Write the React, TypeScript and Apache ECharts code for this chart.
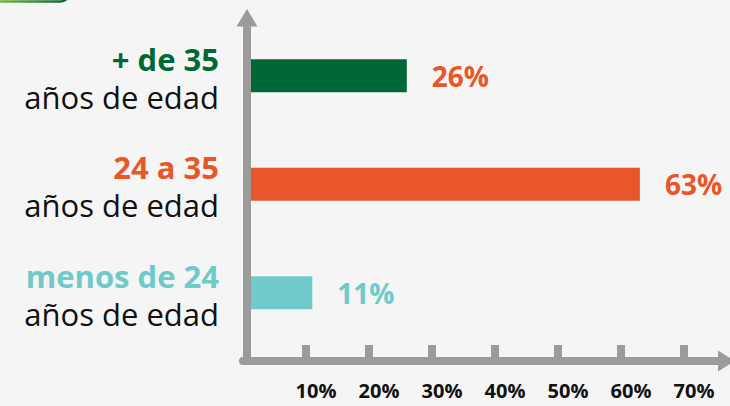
import React, { useEffect, useRef } from "react";
import * as echarts from "echarts";

// Categories listed bottom to top (category y axis)
const categories = ["menos de 24", "24 a 35", "+ de 35"];
const subLabel = "años de edad";
const values = [11, 63, 26];
const tickValues = [10, 20, 30, 40, 50, 60, 70];

const GREEN = "#006837";
const ORANGE = "#e8572a";
const TEAL = "#6fcac9";
const AXIS = "#9b9b9b";
const barColors = [TEAL, ORANGE, GREEN];
const valueLabelColors = [TEAL, ORANGE, ORANGE];
const catStyleKeys = ["t", "o", "g"];

export default function App() {
  const ref = useRef<HTMLDivElement>(null);
  useEffect(() => {
    if (!ref.current) return;
    const chart = echarts.init(ref.current, undefined, { renderer: "svg" });
    const font = "'Open Sans', sans-serif";
    const line = { fontFamily: font, fontSize: 31, lineHeight: 38, align: "right" };
    chart.setOption({
      animation: false,
      backgroundColor: "#f5f5f5",
      textStyle: { fontFamily: font },
      grid: { left: 243, right: 3.5, top: 21.5, bottom: 59, containLabel: false },
      xAxis: {
        type: "value",
        min: 0,
        max: 76.75,
        offset: 14,
        splitLine: { show: false },
        axisLine: {
          show: true,
          lineStyle: { color: AXIS, width: 8 },
          symbol: ["none", "triangle"],
          symbolSize: [21, 17],
        },
        axisTick: {
          show: true,
          inside: true,
          length: 16,
          customValues: tickValues,
          lineStyle: { color: AXIS, width: 8 },
        },
        axisLabel: {
          show: true,
          customValues: tickValues,
          margin: 17,
          color: "#111",
          fontFamily: font,
          fontWeight: "bold",
          fontSize: 20,
          lineHeight: 24,
          padding: [0, 0, 0, 20],
          formatter: (v: number) => `${v}%`,
        },
      },
      yAxis: {
        type: "category",
        data: categories,
        axisLine: { show: false },
        axisTick: { show: false },
        splitLine: { show: false },
        axisLabel: {
          margin: 24,
          align: "right",
          padding: [4, 0, 0, 0],
          formatter: (v: string, i: number) => `{${catStyleKeys[i]}|${v}}\n{s|${subLabel}}`,
          rich: {
            g: { ...line, color: GREEN, fontWeight: "bold" },
            o: { ...line, color: ORANGE, fontWeight: "bold" },
            t: { ...line, color: TEAL, fontWeight: "bold" },
            s: { ...line, color: "#111" },
          },
        },
      },
      series: [
        {
          type: "bar",
          barWidth: 33,
          data: values.map((v, i) => ({
            value: v,
            itemStyle: { color: barColors[i] },
            label: { color: valueLabelColors[i] },
          })),
          label: {
            show: true,
            position: "right",
            distance: 25,
            fontFamily: font,
            fontWeight: "bold",
            fontSize: 28,
            formatter: (p: any) => `${p.value}%`,
          },
        },
      ],
      graphic: [
        {
          type: "rect",
          z: 10,
          shape: { x: -30, y: -40, width: 100, height: 41.5, r: 10 },
          style: {
            fill: "none",
            lineWidth: 2.5,
            stroke: {
              type: "linear",
              x: 0,
              y: 0,
              x2: 1,
              y2: 0,
              colorStops: [
                { offset: 0, color: "#b5d334" },
                { offset: 0.5, color: "#4ea03f" },
                { offset: 1, color: "#0b5e3a" },
              ],
            },
          },
        },
        {
          type: "line",
          z: 10,
          shape: { x1: 247, y1: 365, x2: 247, y2: 24 },
          style: { stroke: AXIS, lineWidth: 8 },
        },
        {
          type: "polygon",
          z: 10,
          shape: { points: [[236.5, 26.5], [257.5, 26.5], [247, 9]] },
          style: { fill: AXIS },
        },
      ],
    });
    return () => chart.dispose();
  }, []);
  return (
    <div
      ref={ref}
      style={{ position: "fixed", left: 0, top: 0, width: 730, height: 406 }}
    />
  );
}
